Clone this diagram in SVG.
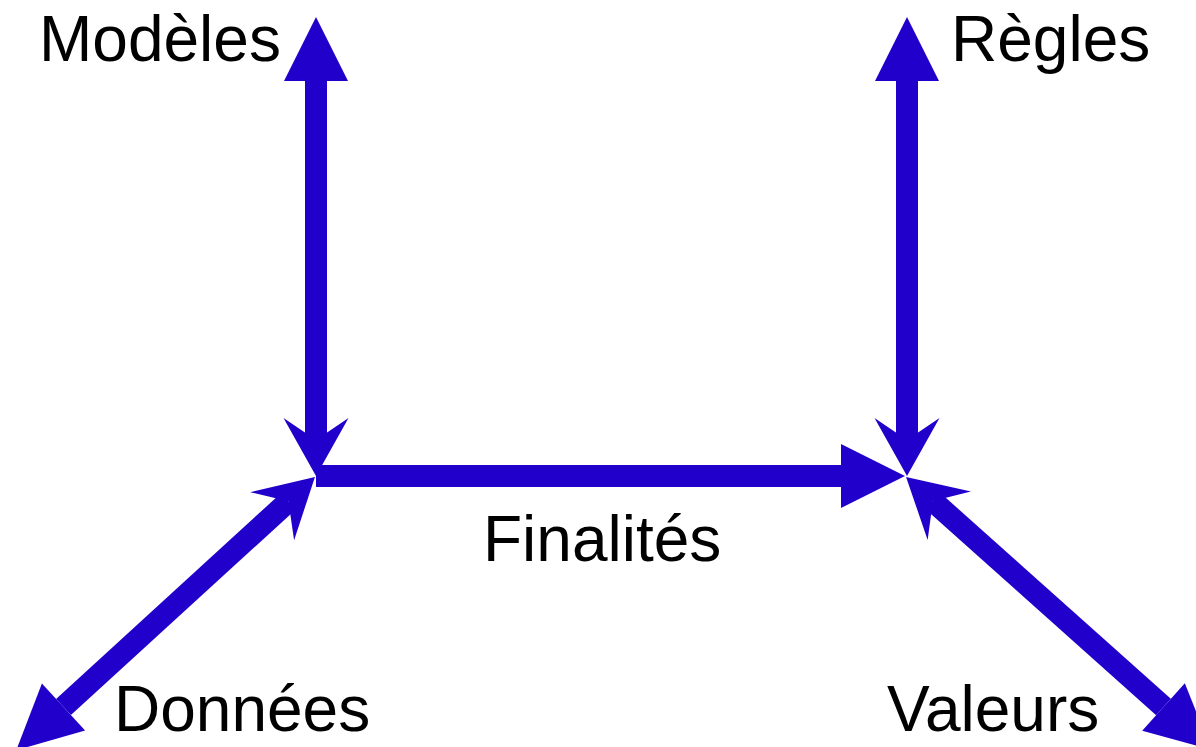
<svg xmlns="http://www.w3.org/2000/svg" width="1196" height="747" viewBox="0 0 1196 747">
<style>
.lbl{font-family:"Liberation Sans",Arial,sans-serif;font-size:64px;fill:#000}
.ln{fill:none;stroke:#2200cc;stroke-width:22;stroke-linecap:butt}
.hd{fill:#2200cc;stroke:none}
</style>
<defs>
<marker id="tri" markerUnits="userSpaceOnUse" orient="auto-start-reverse" refX="0" refY="0" markerWidth="10" markerHeight="10" overflow="visible">
<path class="hd" d="M0,-32 L64,0 L0,32 Z"/>
</marker>
<marker id="barb" markerUnits="userSpaceOnUse" orient="auto" refX="0" refY="0" markerWidth="10" markerHeight="10" overflow="visible">
<path class="hd" d="M36,0 L-22,-32.5 L0,0 L-22,32.5 Z"/>
</marker>
</defs>
<g id="connectors">
<path class="ln" d="M316,476 L841,476" marker-end="url(#tri)"/>
<path class="ln" d="M316,81 L316,440" marker-start="url(#tri)" marker-end="url(#barb)"/>
<path class="ln" d="M907,81 L907,440" marker-start="url(#tri)" marker-end="url(#barb)"/>
<path class="ln" d="M63.5,707 L288.4,501.3" marker-start="url(#tri)" marker-end="url(#barb)"/>
<path class="ln" d="M1163.5,707 L932.9,501" marker-start="url(#tri)" marker-end="url(#barb)"/>
</g>
<g id="node-modeles"><text class="lbl" x="39" y="61">Modèles</text></g>
<g id="node-regles"><text class="lbl" x="951" y="61">Règles</text></g>
<g id="node-finalites"><text class="lbl" x="483" y="561">Finalités</text></g>
<g id="node-donnees"><text class="lbl" x="114" y="731">Données</text></g>
<g id="node-valeurs"><text class="lbl" x="887" y="731">Valeurs</text></g>
</svg>
